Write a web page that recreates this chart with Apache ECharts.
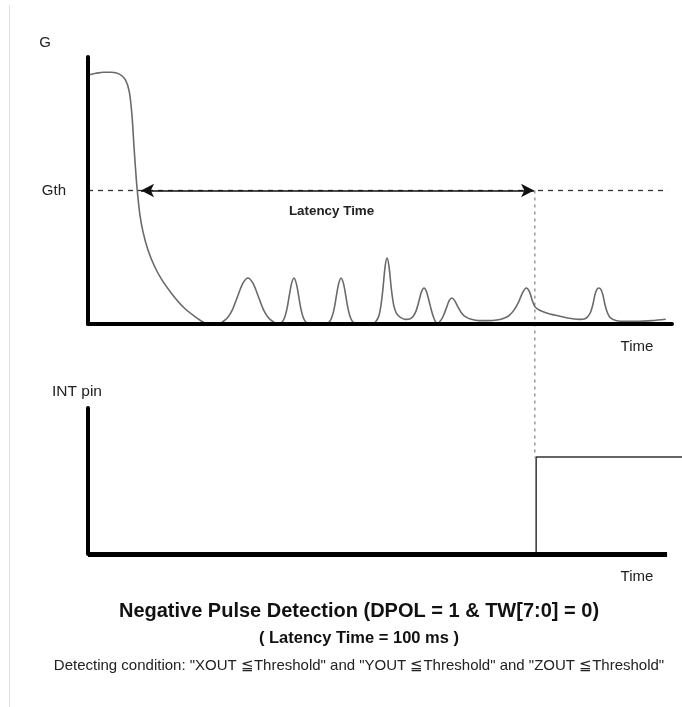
<!DOCTYPE html>
<html>
<head>
<meta charset="utf-8">
<script src="https://cdn.jsdelivr.net/npm/echarts@6/dist/echarts.min.js"></script>
<style>
html,body{margin:0;padding:0;background:#fff;}
#chart{width:682px;height:707px;}
</style>
</head>
<body>
<div id="chart"></div>
<script>
// ---- data (time in ms, G in arbitrary units where Gth = 1) ----
const gCurve = [
  [0,1.865],[2,1.878],[4,1.886],[6,1.886],[8,1.872],[9.5,1.83],[10.5,1.74],[11.2,1.56],[11.7,1.33],[12.2,1.12],[12.6,0.98],[13.2,0.82],[14,0.69],[15.2,0.56],[16.8,0.44],[18.8,0.33],[21.5,0.22],[24.5,0.12],[27.5,0.05],[30,0.005],
  [32,0],
  [33.2,0],[34.2,0.015],[35.5,0.047],[36.8,0.11],[38.1,0.21],[39.4,0.304],[40.7,0.345],[42,0.304],[43.3,0.21],[44.6,0.11],[45.9,0.047],[47.2,0.015],[48.2,0],
  [48.8,0],[49.4,0.015],[50,0.047],[50.6,0.11],[51.2,0.21],[51.8,0.304],[52.4,0.345],[53,0.304],[53.6,0.21],[54.2,0.11],[54.8,0.047],[55.4,0.015],[56,0],
  [60.8,0],[61.4,0.015],[62,0.047],[62.6,0.11],[63.2,0.21],[63.8,0.304],[64.4,0.345],[65,0.304],[65.6,0.21],[66.2,0.11],[66.8,0.047],[67.4,0.015],[68,0],
  [72.5,0],[73.3,0.02],[74,0.06],[74.5,0.13],[75,0.25],[75.6,0.43],[76.1,0.494],[76.6,0.43],[77.2,0.26],[77.8,0.14],[78.5,0.08],[79.5,0.05],[80.8,0.035],[82,0.04],
  [82.8,0.06],[83.5,0.1],[84.2,0.17],[84.9,0.245],[85.5,0.27],[86.1,0.245],[86.8,0.17],[87.5,0.09],[88.2,0.03],[88.9,0.005],
  [89.6,0.02],[90.4,0.06],[91.2,0.12],[91.9,0.175],[92.6,0.195],[93.3,0.175],[94.1,0.13],[95,0.085],[96,0.055],[97.5,0.035],[99.5,0.025],[102,0.025],[104,0.03],
  [105.5,0.04],[107,0.06],[108.3,0.1],[109.5,0.16],[110.5,0.23],[111.5,0.27],[112.3,0.245],[113,0.18],[113.7,0.13],[114.8,0.105],[116.5,0.085],[119,0.065],[122,0.045],[125,0.035],[126.5,0.04],
  [127.3,0.06],[127.9,0.09],[128.5,0.15],[129,0.22],[129.5,0.26],[130,0.27],[130.5,0.26],[131,0.22],[131.5,0.15],[132.1,0.09],[132.8,0.05],[134.5,0.025],[137,0.02],[140,0.02],[143.5,0.025],[147,0.035]
];
const gth = 1.0;
const tStart = 13.5;      // threshold crossing
const tDetect = 113.7;    // latency end (100 ms later)
const gthLineEnd = 147.6;
const connectorBottom = -1.0;
const intSignal = [[0,0],[114,0],[114,0.664],[151.1,0.664]];
const topAxisMax = 148.6;
const bottomAxisEnd = 147.3;
const bottomGridMax = 151.1;

const texts = {
  gLabel: 'G',
  intLabel: 'INT pin',
  time: 'Time',
  latency: 'Latency Time',
  title: 'Negative Pulse Detection (DPOL = 1 & TW[7:0] = 0)',
  sub: '( Latency Time = 100 ms )',
  cond: 'Detecting condition: "XOUT \u2266Threshold" and "YOUT \u2266Threshold" and "ZOUT \u2266Threshold"'
};

const FF = '"Liberation Sans", Arial, sans-serif';
const chart = echarts.init(document.getElementById('chart'), null, {renderer:'canvas'});

function t(text, left, top, size, weight, color){
  return {text:text, left:left, top:top, padding:0, textAlign:'center',
    textStyle:{fontFamily:FF, fontSize:size, fontWeight:weight||'normal', color:color||'#222'}};
}

chart.setOption({
  animation:false,
  backgroundColor:'#fff',
  title:[
    t(texts.gLabel, 45, 35, 15),
    t(texts.intLabel, 77, 384, 15.5),
    t(texts.time, 637, 339, 15),
    t(texts.time, 637, 569, 15),
    t(texts.title, 359, 601, 20, 'bold', '#111'),
    t(texts.sub, 359, 630, 16.5, 'bold', '#111'),
    t(texts.cond, 359, 658, 15, 'normal', '#222')
  ],
  graphic:[{type:'line', shape:{x1:9.5,y1:5,x2:9.5,y2:707}, style:{stroke:'#e2e2e2', lineWidth:1}}],
  grid:[
    {left:88, top:57, width:584, height:267},
    {left:88, top:408, width:594, height:146}
  ],
  xAxis:[
    {gridIndex:0, type:'value', min:0, max:topAxisMax, z:5,
     axisLine:{show:true, onZero:false, lineStyle:{color:'#000', width:4}},
     axisTick:{show:false}, axisLabel:{show:false}, splitLine:{show:false}},
    {gridIndex:1, type:'value', min:0, max:bottomGridMax,
     axisLine:{show:false}, axisTick:{show:false}, axisLabel:{show:false}, splitLine:{show:false}}
  ],
  yAxis:[
    {gridIndex:0, type:'value', min:0, max:2, z:5,
     axisLine:{show:true, onZero:false, lineStyle:{color:'#000', width:4}},
     axisTick:{show:false}, axisLabel:{show:false}, splitLine:{show:false}},
    {gridIndex:1, type:'value', min:0, max:1, z:5,
     axisLine:{show:true, onZero:false, lineStyle:{color:'#000', width:4}},
     axisTick:{show:false}, axisLabel:{show:false}, splitLine:{show:false}}
  ],
  series:[
    {type:'line', xAxisIndex:0, yAxisIndex:0, data:gCurve, showSymbol:false, symbol:'none',
     smooth:0.3,
     lineStyle:{color:'#6a6a6a', width:1.6},
     markLine:{silent:true, symbol:'none', animation:false,
       data:[
         [{coord:[0,gth], lineStyle:{color:'#333', width:1.3, type:[5,5]},
           label:{show:true, position:'start', formatter:'Gth', distance:22, fontFamily:FF, fontSize:15, color:'#222'}},
          {coord:[gthLineEnd,gth]}]
       ]}
    },
    {type:'line', xAxisIndex:0, yAxisIndex:0, data:[[tStart,gth],[tDetect,gth]], showSymbol:false, symbol:'none',
     lineStyle:{width:0, opacity:0},
     markLine:{silent:true, symbol:['arrow','arrow'], symbolSize:[10,13], animation:false,
       lineStyle:{color:'#111', width:1.6, type:'solid'},
       label:{show:true, position:'insideMiddleBottom', formatter:texts.latency, distance:14, offset:[-6,0],
         fontFamily:FF, fontSize:13.4, fontWeight:'bold', color:'#222'},
       data:[[{coord:[tStart,gth]},{coord:[tDetect-0.2,gth]}]]}
    },
    {type:'line', xAxisIndex:0, yAxisIndex:0, data:[[tDetect,gth],[tDetect,connectorBottom]], clip:false,
     showSymbol:false, symbol:'none', z:1,
     lineStyle:{color:'#8a8a8a', width:1.3, type:[3,4]}},
    {type:'line', xAxisIndex:1, yAxisIndex:1, data:intSignal, showSymbol:false, symbol:'none',
     lineStyle:{color:'#333', width:1.5},
     markLine:{silent:true, symbol:'none', animation:false, z:6,
       lineStyle:{color:'#000', width:5, type:'solid'},
       label:{show:false},
       data:[[{coord:[0,0]},{coord:[bottomAxisEnd,0]}]]}
    }
  ]
});
</script>
</body>
</html>
